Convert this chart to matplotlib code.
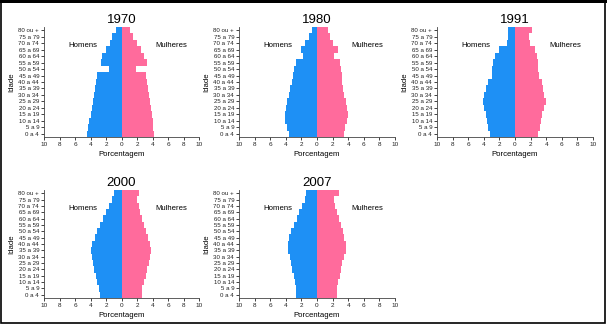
import matplotlib
matplotlib.use("Agg")
import matplotlib.pyplot as plt
from matplotlib.patches import Rectangle

plt.rcParams['font.family'] = ['Liberation Sans', 'DejaVu Sans']

age_groups = ["0 a 4", "5 a 9", "10 a 14", "15 a 19", "20 a 24", "25 a 29",
              "30 a 34", "35 a 39", "40 a 44", "45 a 49", "50 a 54", "55 a 59",
              "60 a 64", "65 a 69", "70 a 74", "75 a 79", "80 ou +"]

# percent of population, from 0 a 4 up to 80 ou +
men_1970 = [4.4, 4.3, 4.15, 4.0, 3.85, 3.65, 3.5, 3.4, 3.3, 3.15, 1.6, 2.7, 2.5, 2.05, 1.45, 1.2, 0.7]
women_1970 = [4.15, 4.1, 4.05, 3.95, 3.85, 3.7, 3.55, 3.45, 3.3, 3.2, 1.9, 3.25, 2.95, 2.5, 1.95, 1.45, 1.1]
men_1980 = [3.65, 3.85, 4.05, 4.15, 4.0, 3.85, 3.65, 3.4, 3.2, 3.1, 2.9, 2.65, 1.85, 2.05, 1.5, 1.05, 0.65]
women_1980 = [3.45, 3.65, 3.85, 3.95, 3.85, 3.7, 3.5, 3.35, 3.25, 3.2, 3.1, 3.0, 2.2, 2.65, 2.1, 1.7, 1.4]
men_1991 = [3.2, 3.4, 3.6, 3.75, 3.95, 4.05, 3.95, 3.75, 3.5, 3.0, 2.9, 2.8, 2.55, 2.05, 1.05, 0.95, 0.95]
women_1991 = [3.0, 3.15, 3.35, 3.5, 3.75, 3.95, 3.75, 3.6, 3.4, 3.1, 3.0, 2.9, 2.8, 2.55, 1.9, 1.8, 2.15]
men_2000 = [2.8, 2.95, 3.15, 3.35, 3.5, 3.65, 3.8, 3.9, 3.75, 3.45, 3.15, 2.8, 2.45, 2.0, 1.6, 1.25, 1.0]
women_2000 = [2.6, 2.7, 2.9, 3.15, 3.3, 3.5, 3.65, 3.75, 3.65, 3.45, 3.2, 2.9, 2.7, 2.45, 2.3, 1.95, 2.3]
men_2007 = [2.65, 2.75, 2.85, 3.0, 3.15, 3.35, 3.5, 3.75, 3.75, 3.55, 3.3, 3.0, 2.55, 2.25, 1.95, 1.6, 1.35]
women_2007 = [2.5, 2.55, 2.75, 2.9, 3.1, 3.25, 3.45, 3.7, 3.7, 3.5, 3.35, 3.1, 2.8, 2.55, 2.35, 2.15, 2.8]

years = ["1970", "1980", "1991", "2000", "2007"]
men = [men_1970, men_1980, men_1991, men_2000, men_2007]
women = [women_1970, women_1980, women_1991, women_2000, women_2007]

blue = "#1e90f5"
pink = "#ff6b9c"

W, H = 607, 327
fig = plt.figure(figsize=(W / 100, H / 100), dpi=100)

# axes boxes in pixels: left, right, top, bottom
boxes = [(44, 199, 27, 137), (239, 395, 27, 137), (437, 593, 27, 137),
         (44, 199, 190, 298), (239, 395, 190, 298)]

for i in range(5):
    l, r, t, b = boxes[i]
    ax = fig.add_axes([l / W, 1 - b / H, (r - l) / W, (b - t) / H])
    pos = list(range(len(age_groups)))
    ax.barh(pos, [-v for v in men[i]], height=1.0, color=blue, linewidth=0)
    ax.barh(pos, women[i], height=1.0, color=pink, linewidth=0)
    ax.set_xlim(-10, 10)
    ax.set_ylim(-0.5, 16.5)
    ax.set_yticks(pos)
    ax.set_yticklabels(age_groups, fontsize=4.4)
    ax.set_xticks(range(-10, 11, 2))
    ax.set_xticklabels([str(abs(v)) for v in range(-10, 11, 2)], fontsize=4.6)
    ax.tick_params(axis="both", length=2, width=0.6, pad=1.5, colors="#222222")
    for s in ["top", "right"]:
        ax.spines[s].set_visible(False)
    for s in ["left", "bottom"]:
        ax.spines[s].set_linewidth(0.6)
        ax.spines[s].set_color("#444444")
    ax.set_title(years[i], fontsize=9.5, pad=3)
    ax.set_xlabel("Porcentagem", fontsize=5.6, labelpad=3)
    ax.set_ylabel("Idade", fontsize=5.6, labelpad=2)
    ax.text(-5.0, 13.6, "Homens", fontsize=5.6, ha="center", va="center")
    ax.text(6.4, 13.6, "Mulheres", fontsize=5.6, ha="center", va="center")

# frame around the whole picture, heavier along the top
fig.patches.append(Rectangle((1.5 / W, 1 - 323 / H), 603 / W, 321.5 / H,
                             transform=fig.transFigure, fill=False,
                             edgecolor="black", linewidth=1.2))
fig.patches.append(Rectangle((0, 1 - 3 / H), 1, 3 / H,
                             transform=fig.transFigure, facecolor="black",
                             linewidth=0))

fig.savefig("out.png", dpi=100)
